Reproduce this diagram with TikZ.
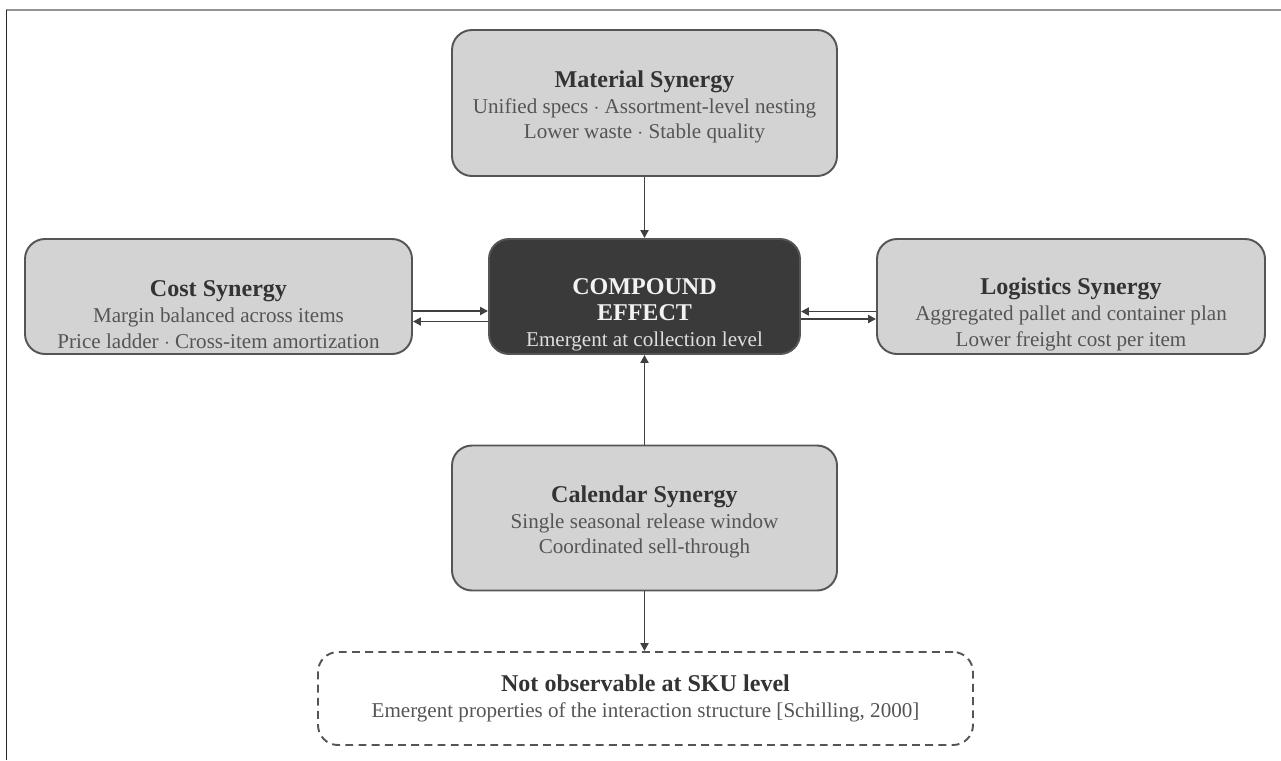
\documentclass[tikz,border=0pt]{standalone}
\usepackage{fontspec}
\usetikzlibrary{arrows.meta}
\setmainfont{Liberation Serif}
\definecolor{boxfill}{HTML}{D3D3D3}
\definecolor{boxline}{HTML}{555555}
\definecolor{corefill}{HTML}{3A3A3A}
\definecolor{txtdark}{HTML}{333333}
\definecolor{txtbody}{HTML}{555555}
\newcommand{\boxhead}[1]{{\fontsize{13.7}{14.7}\selectfont\bfseries\color{txtdark}#1}}
\newcommand{\corehead}[1]{{\fontsize{13.7}{14.7}\selectfont\bfseries\color{white!95!black}#1}}
\newcommand{\lowtop}[1]{\rule{0pt}{#1}}
\begin{document}
\begin{tikzpicture}[->,>={Triangle[length=4.5pt,width=4.5pt]},line width=1.1pt,
    synbox/.style={draw=boxline,fill=boxfill,rounded corners=0.4cm,align=center,text=txtbody,font=\fontsize{12}{14.7}\selectfont},
    corebox/.style={draw=boxline,fill=corefill,rounded corners=0.4cm,align=center,text=white!87!black,font=\fontsize{12}{14.7}\selectfont},
    notebox/.style={draw=boxline,dash pattern=on 4.5pt off 3pt,rounded corners=0.4cm,align=center,text=txtbody,font=\fontsize{12}{14.7}\selectfont},
    arr/.style={draw=black!75}]
    \useasboundingbox (0,0) rectangle (25.62,-15.2);
    % frame
    \draw[-,gray!85] (0.12,-0.2)--(25.62,-0.2);
    \draw[-,black!85] (0.13,-0.2)--(0.13,-15.2);
    % boxes
    \node[synbox,minimum width=7.70cm,minimum height=2.92cm] (mat) at (12.89,-2.06) {\lowtop{14pt}\boxhead{Material Synergy}\\Unified specs $\cdot$ Assortment-level nesting\\Lower waste $\cdot$ Stable quality};
    \node[corebox,inner ysep=0pt,minimum width=6.22cm,minimum height=2.30cm] (cen) at (12.89,-5.93) {\lowtop{30pt}\corehead{COMPOUND}\\\corehead{EFFECT}\\Emergent at collection level};
    \node[synbox,inner ysep=0pt,minimum width=7.74cm,minimum height=2.30cm] (cost) at (4.37,-5.93) {\lowtop{30pt}\boxhead{Cost Synergy}\\Margin balanced across items\\Price ladder $\cdot$ Cross-item amortization};
    \node[synbox,inner ysep=0pt,minimum width=7.76cm,minimum height=2.30cm] (log) at (21.42,-5.93) {\lowtop{30pt}\boxhead{Logistics Synergy}\\Aggregated pallet and container plan\\Lower freight cost per item};
    \node[synbox,minimum width=7.70cm,minimum height=2.90cm] (cal) at (12.89,-10.36) {\lowtop{14pt}\boxhead{Calendar Synergy}\\Single seasonal release window\\Coordinated sell-through};
    \node[notebox,minimum width=13.10cm,minimum height=1.86cm] (sku) at (12.91,-13.97) {\boxhead{Not observable at SKU level}\\Emergent properties of the interaction structure [Schilling, 2000]};
    % links
    \draw[arr] (mat.south -| cen) -- (cen.north);
    \draw[arr] (cal.north -| cen) -- (cen.south);
    \draw[arr] (cal.south -| cen) -- (sku.north -| cen);
    \draw[arr] ([yshift=-0.29cm]cost.east) -- ([yshift=-0.29cm]cen.west);
    \draw[arr] ([yshift=-0.50cm]cen.west) -- ([yshift=-0.50cm]cost.east);
    \draw[arr] ([yshift=-0.30cm]log.west) -- ([yshift=-0.30cm]cen.east);
    \draw[arr] ([yshift=-0.45cm]cen.east) -- ([yshift=-0.45cm]log.west);
\end{tikzpicture}
\end{document}
